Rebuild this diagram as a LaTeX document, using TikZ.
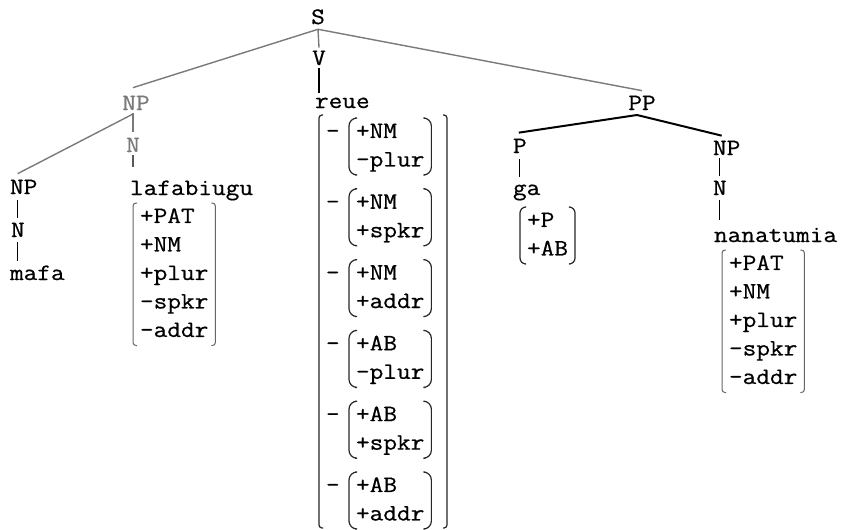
\documentclass[tikz,border=0pt]{standalone}
\usepackage{fontspec}
\newfontfamily\tw[FakeStretch=1.13,FakeBold=0.6]{Latin Modern Mono}
\tikzset{
  lab/.style={inner sep=0pt, outer sep=0pt, font=\tw\fontsize{23.5}{28.5}\selectfont},
  feat/.style={inner xsep=7pt, inner ysep=0pt, outer sep=0pt, anchor=north west, font=\tw\fontsize{23.5}{28.5}\selectfont},
  gline/.style={draw=black!52, line width=1.4pt},
  bline/.style={draw=black, line width=1.3pt},
  kline/.style={draw=black, line width=2pt},
  brk/.style={draw=black!85, line width=1.2pt},
  lbrk/.style={draw=black!60, line width=1pt},
}
\newcommand\brackets[4]{%
  \draw[#4, rounded corners=#3] ([xshift=#2]#1.north west) -- (#1.north west) -- (#1.south west) -- ([xshift=#2]#1.south west);
  \draw[#4, rounded corners=#3] ([xshift=-#2]#1.north east) -- (#1.north east) -- (#1.south east) -- ([xshift=-#2]#1.south east);}
\newcommand\fl[1]{\begin{tabular}[t]{@{}l@{}}#1\end{tabular}}
\begin{document}
\begin{tikzpicture}[x=1pt,y=-1pt]
\useasboundingbox[fill=white] (0,0) rectangle (846,530);
% tree labels
\node[lab, anchor=base] (S) at (318,24) {S};
\node[lab, anchor=base] (V) at (319,65) {V};
\node[lab, anchor=base west] (reue) at (315,108) {reue};
\node[lab, anchor=base, text=black!52] (NPa) at (136,110) {NP};
\node[lab, anchor=base, text=black!52] (Na) at (133,152) {N};
\node[lab, anchor=base west] (laf) at (130,195) {lafabiugu};
\node[lab, anchor=base west] (NPb) at (10,194) {NP};
\node[lab, anchor=base west] (Nb) at (11,237) {N};
\node[lab, anchor=base west] (mafa) at (10,280) {mafa};
\node[lab, anchor=base] (PP) at (642,110) {PP};
\node[lab, anchor=base west] (P) at (513,153) {P};
\node[lab, anchor=base west] (ga) at (513,195) {ga};
\node[lab, anchor=base west] (NPc) at (713,155) {NP};
\node[lab, anchor=base west] (Nc) at (713,195) {N};
\node[lab, anchor=base west] (nana) at (714,242) {nanatumia};
% feature lists
\node[feat] (fl) at (133,203) {\fl{+PAT\\+NM\\+plur\\-spkr\\-addr}};
\node[feat] (fg) at (520,207) {\fl{+P\\+AB}};
\node[feat] (fn) at (722,250) {\fl{+PAT\\+NM\\+plur\\-spkr\\-addr}};
\node[feat] (g1) at (349,118.0) {\fl{+NM\\-plur}};
\node[feat] (g2) at (349,188.8) {\fl{+NM\\+spkr}};
\node[feat] (g3) at (349,259.6) {\fl{+NM\\+addr}};
\node[feat] (g4) at (349,330.4) {\fl{+AB\\-plur}};
\node[feat] (g5) at (349,401.2) {\fl{+AB\\+spkr}};
\node[feat] (g6) at (349,472.0) {\fl{+AB\\+addr}};
\node[lab, anchor=base west] (d1) at (326,138.0) {-};
\node[lab, anchor=base west] (d2) at (326,208.8) {-};
\node[lab, anchor=base west] (d3) at (326,279.6) {-};
\node[lab, anchor=base west] (d4) at (326,350.4) {-};
\node[lab, anchor=base west] (d5) at (326,421.2) {-};
\node[lab, anchor=base west] (d6) at (326,492.0) {-};
\node[inner sep=0pt, outer sep=0pt, minimum width=128pt, minimum height=413pt, anchor=north west] (big) at (319,115) {};
% brackets
\brackets{fl}{4pt}{3pt}{lbrk}
\brackets{fn}{4pt}{3pt}{lbrk}
\brackets{fg}{5pt}{6pt}{brk}
\brackets{g1}{6pt}{8pt}{brk}
\brackets{g2}{6pt}{8pt}{brk}
\brackets{g3}{6pt}{8pt}{brk}
\brackets{g4}{6pt}{8pt}{brk}
\brackets{g5}{6pt}{8pt}{brk}
\brackets{g6}{6pt}{8pt}{brk}
\brackets{big}{4pt}{3pt}{brk}
% connectors
\draw[gline] ([yshift=-5pt]S.south) -- ([xshift=-3pt,yshift=8pt]NPa.north);
\draw[gline] ([yshift=-5pt]S.south) -- ([yshift=3pt]V.north);
\draw[gline] ([yshift=-5pt]S.south) -- ([yshift=5pt]PP.north);
\draw[bline] ([yshift=-3pt]V.south) -- ([yshift=5pt]reue.north -| V.south);
\draw[gline] ([xshift=-3pt,yshift=-4pt]NPa.south) -- ([xshift=-6pt,yshift=6pt]NPb.north);
\draw[gline] ([xshift=-3pt,yshift=-3pt]NPa.south) -- ([yshift=6pt]Na.north);
\draw[draw=black!65, line width=1.3pt] ([yshift=-3pt]Na.south) -- ([yshift=14pt]laf.north -| Na.south);
\draw[bline] ([yshift=-6pt]NPb.south -| Nb.north) -- ([yshift=5pt]Nb.north);
\draw[bline] ([yshift=-5pt]Nb.south) -- ([yshift=5pt]mafa.north -| Nb.south);
\draw[kline] ([xshift=-5pt,yshift=-5pt]PP.south) -- ([xshift=-1pt,yshift=6pt]P.north);
\draw[kline] ([xshift=-5pt,yshift=-5pt]PP.south) -- ([xshift=-5pt,yshift=5pt]NPc.north);
\draw[bline] ([yshift=-6pt]P.south) -- ([yshift=8pt]ga.north -| P.south);
\draw[bline] ([yshift=-3pt]NPc.south -| Nc.north) -- ([yshift=5pt]Nc.north);
\draw[bline] ([yshift=-5pt]Nc.south) -- ([yshift=8pt]nana.north -| Nc.south);
\end{tikzpicture}
\end{document}
